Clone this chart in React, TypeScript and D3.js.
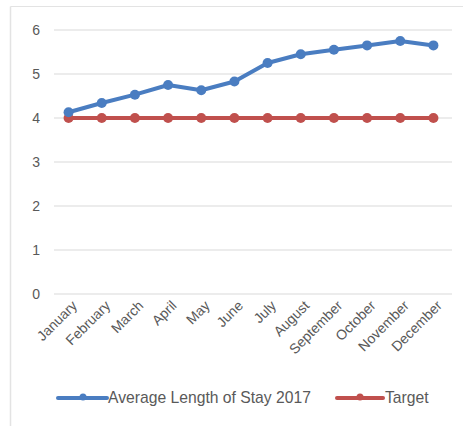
import React from "react";
import * as d3 from "d3";

const months = ["January","February","March","April","May","June","July","August","September","October","November","December"];
const avgStay = [4.13, 4.34, 4.53, 4.75, 4.63, 4.83, 5.25, 5.45, 5.55, 5.65, 5.75, 5.65];
const target = [4, 4, 4, 4, 4, 4, 4, 4, 4, 4, 4, 4];
const yTicks = [0, 1, 2, 3, 4, 5, 6];
const seriesNames = ["Average Length of Stay 2017", "Target"];
const colors = ["#4a7dc1", "#c0504d"];

const W = 463, H = 426;
const left = 52, right = 450, top = 30, bottom = 294;

export default function App() {
  const x = d3.scaleBand<string>().domain(months).range([left, right]);
  const xc = (m: string) => (x(m) as number) + x.bandwidth() / 2;
  const y = d3.scaleLinear().domain([0, 6]).range([bottom, top]);
  const line = d3.line<number>().x((_, i) => xc(months[i])).y((d) => y(d));
  const font = "'Liberation Sans', Arial, sans-serif";
  const series = [avgStay, target];
  return (
    <div style={{ position: "absolute", left: 0, top: 0 }}>
      <svg width={W} height={H} style={{ display: "block", background: "#fff" }} fontFamily={font}>
        <line x1={10.5} x2={W} y1={6.5} y2={6.5} stroke="#e3e3e3" strokeWidth={1} />
        <line x1={10.5} x2={10.5} y1={6.5} y2={H} stroke="#e3e3e3" strokeWidth={1.5} />
        {yTicks.map((t) => (
          <g key={t}>
            <line x1={left + 2} x2={right + 2} y1={y(t)} y2={y(t)} stroke="#d9d9d9" strokeWidth={1} />
            <text x={40} y={y(t)} dy="0.35em" textAnchor="end" fontSize={14} fill="#595959">{t}</text>
          </g>
        ))}
        {months.map((m) => (
          <text key={m} transform={`translate(${xc(m) + 6},${bottom + 9}) rotate(-45)`} textAnchor="end" fontSize={14} fill="#595959" dy="0.35em">{m}</text>
        ))}
        {[1, 0].map((si) => (
          <g key={si}>
            <path d={line(series[si]) || ""} fill="none" stroke={colors[si]} strokeWidth={4} strokeLinejoin="round" strokeLinecap="round" />
            {series[si].map((v, i) => (
              <circle key={i} cx={xc(months[i])} cy={y(v)} r={5} fill={colors[si]} />
            ))}
          </g>
        ))}
        <g>
          <line x1={58} x2={107} y1={398} y2={398} stroke={colors[0]} strokeWidth={4} strokeLinecap="round" />
          <circle cx={83} cy={397} r={3.5} fill={colors[0]} />
          <text x={108} y={403} fontSize={15.7} fill="#595959">{seriesNames[0]}</text>
          <line x1={337} x2={383} y1={398} y2={398} stroke={colors[1]} strokeWidth={4} strokeLinecap="round" />
          <circle cx={360} cy={397} r={3.5} fill={colors[1]} />
          <text x={385} y={403} fontSize={15.7} fill="#595959">{seriesNames[1]}</text>
        </g>
      </svg>
    </div>
  );
}
